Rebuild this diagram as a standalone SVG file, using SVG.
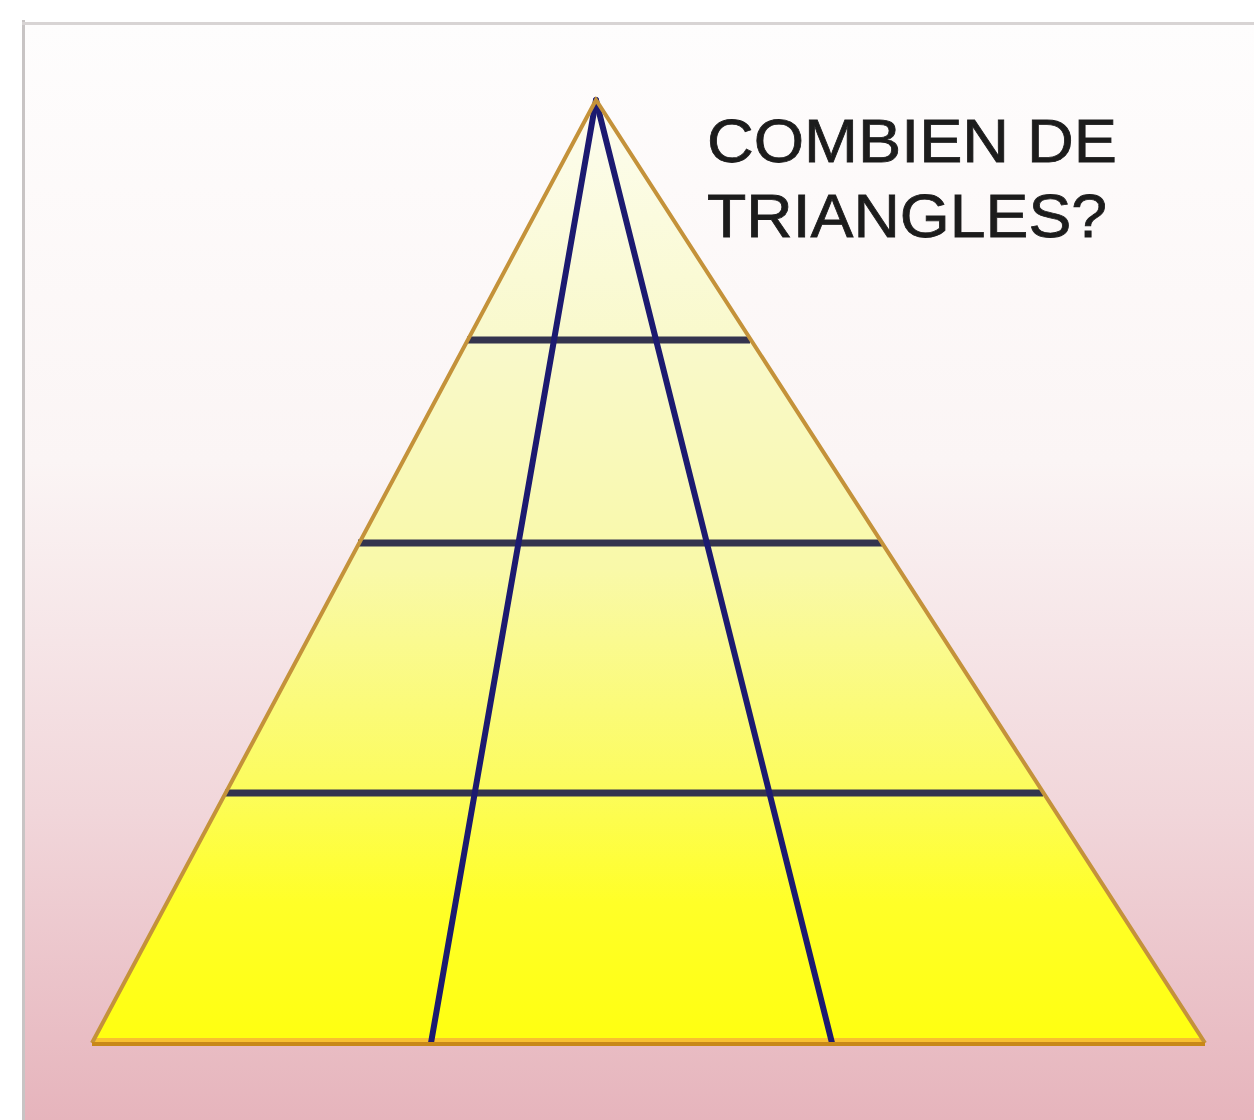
<svg xmlns="http://www.w3.org/2000/svg" width="1254" height="1120" viewBox="0 0 1254 1120">
  <defs>
    <linearGradient id="bg" x1="0" y1="0" x2="0" y2="1">
      <stop offset="0" stop-color="#fefdfd"/>
      <stop offset="0.4" stop-color="#fbf5f5"/>
      <stop offset="0.72" stop-color="#f1d6da"/>
      <stop offset="1" stop-color="#e6b4bc"/>
    </linearGradient>
    <linearGradient id="tri" x1="0" y1="100" x2="0" y2="1043" gradientUnits="userSpaceOnUse">
      <stop offset="0" stop-color="#fdfdf0"/>
      <stop offset="0.25" stop-color="#f9f9cc"/>
      <stop offset="0.5" stop-color="#f9f9a8"/>
      <stop offset="0.72" stop-color="#fcfc60"/>
      <stop offset="0.85" stop-color="#ffff28"/>
      <stop offset="1" stop-color="#ffff10"/>
    </linearGradient>
    <style>
      .edge { fill: none; stroke: #c4923a; stroke-width: 4; stroke-linejoin: miter; }
      .ray { stroke: #1c1a70; stroke-width: 6; stroke-linecap: round; }
      .hline { stroke: #34344e; stroke-width: 7; }
      .title { font-family: "Liberation Sans", Arial, sans-serif; font-size: 61px; fill: #1c1c1c; stroke: #1c1c1c; stroke-width: 0.8; }
    </style>
  </defs>

  <rect x="0" y="0" width="1254" height="1120" fill="#ffffff"/>
  <rect x="22" y="22" width="1232" height="1098" fill="url(#bg)"/>
  <line x1="23.5" y1="20" x2="23.5" y2="1120" stroke="#c8c4c4" stroke-width="3"/>
  <line x1="22" y1="23.5" x2="1254" y2="23.5" stroke="#d8d4d4" stroke-width="3"/>

  <g id="pyramid">
    <polygon points="596,100 92,1043 1205,1043" fill="url(#tri)"/>
    <line x1="94" y1="1040" x2="1203" y2="1040" stroke="#f8c030" stroke-width="4"/>
  </g>

  <g id="lines">
    <line class="hline" x1="467" y1="340" x2="750" y2="340" stroke="#3e3e6a"/>
    <line class="hline" x1="358" y1="543" x2="882" y2="543"/>
    <line class="hline" x1="225" y1="793" x2="1043" y2="793"/>
    <line class="ray" x1="596" y1="100" x2="431" y2="1043"/>
    <line class="ray" x1="596" y1="100" x2="832" y2="1043"/>
  </g>

  <g id="outline">
    <polyline class="edge" points="92,1043 596,100 1205,1043"/>
    <line x1="92" y1="1044" x2="1205" y2="1044" stroke="#c88818" stroke-width="4"/>
  </g>

  <g id="title">
    <text class="title" x="707" y="162" textLength="410" lengthAdjust="spacingAndGlyphs">COMBIEN DE</text>
    <text class="title" x="707" y="237" textLength="400" lengthAdjust="spacingAndGlyphs">TRIANGLES?</text>
  </g>
</svg>
